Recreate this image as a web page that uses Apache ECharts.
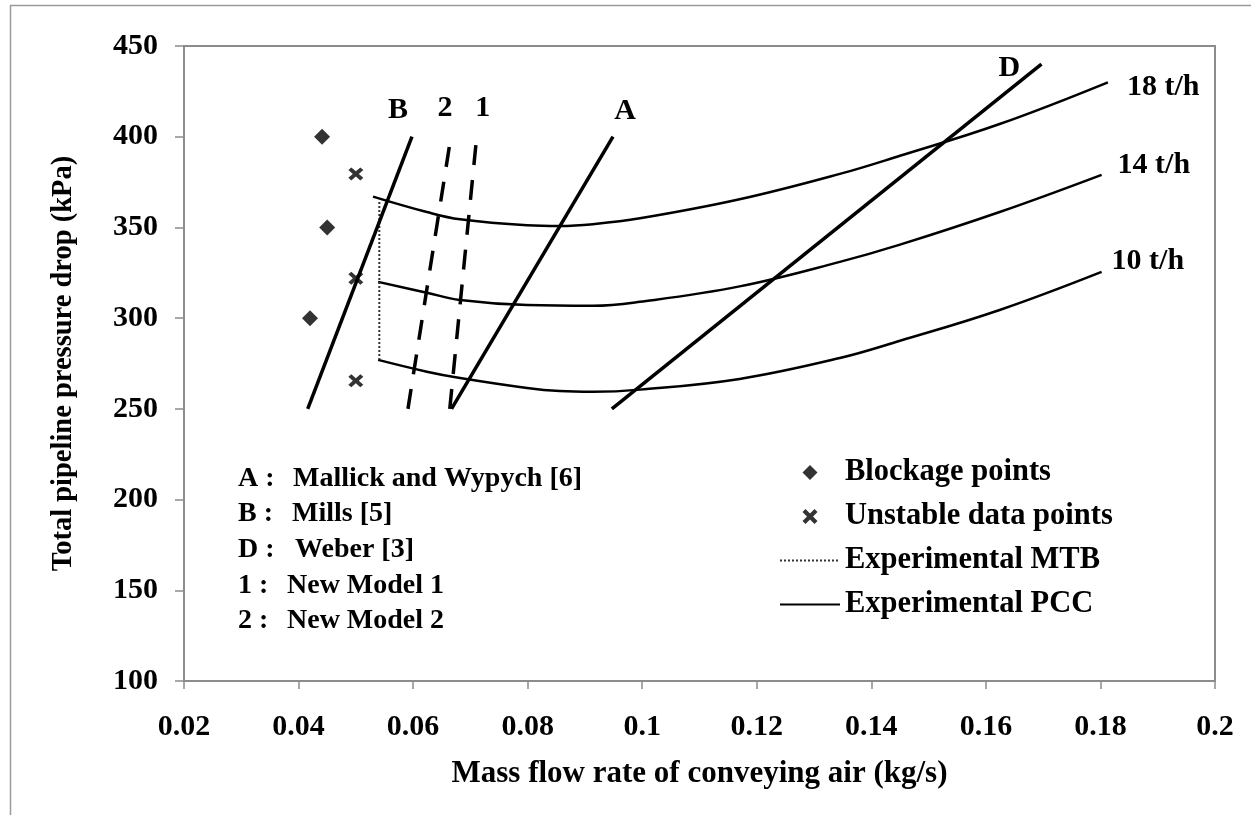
<!DOCTYPE html>
<html><head><meta charset="utf-8">
<script src="https://cdn.jsdelivr.net/npm/echarts@6/dist/echarts.min.js"></script>
<style>html,body{margin:0;padding:0;background:#fff}#c{width:1251px;height:815px}</style>
</head><body><div id="c"></div>
<script>
// ---- axes ----
const xMin = 0.02, xMax = 0.2, xStep = 0.02;
const yMin = 100, yMax = 450, yStep = 50;
const xTitle = 'Mass flow rate of conveying air (kg/s)';
const yTitle = 'Total pipeline pressure drop (kPa)';

// ---- scatter points ----
const blockageX = [0.0441, 0.0450, 0.0420];
const blockageY = [400, 350, 300];
const unstableX = [0.0500, 0.0500, 0.0500];
const unstableY = [379.5, 322, 265.5];

// ---- straight model lines (two end points each) ----
const lineAX = [0.0667, 0.0949], lineAY = [250, 400];
const lineBX = [0.0416, 0.0598], lineBY = [250, 400];
const lineDX = [0.0947, 0.1697], lineDY = [250, 440];
const line1X = [0.0664, 0.0711], line1Y = [250, 400];
const line2X = [0.0591, 0.0666], line2Y = [250, 400];

// ---- experimental MTB (dotted) ----
const mtbX = [0.0541, 0.0541], mtbY = [364, 277];

// ---- experimental PCC curves ----
const c18X = [0.0530, 0.0624, 0.0682, 0.0799, 0.0856, 0.0914, 0.0996, 0.1170, 0.1345, 0.1450, 0.1624, 0.1813];
const c18Y = [367, 358.5, 354.5, 351.2, 350.8, 351.8, 355, 365.5, 379.5, 389.5, 407, 430];
const c14X = [0.0539, 0.0624, 0.0682, 0.0799, 0.0914, 0.0996, 0.1170, 0.1345, 0.1450, 0.1624, 0.1802];
const c14Y = [320, 314, 310, 307.2, 306.8, 309, 317.5, 331, 340.5, 358.5, 379];
const c10X = [0.0539, 0.0624, 0.0682, 0.0799, 0.0856, 0.0914, 0.0996, 0.1170, 0.1345, 0.1450, 0.1624, 0.1802];
const c10Y = [277, 270.5, 267, 261.5, 259.8, 259.4, 260.6, 266.5, 278, 287.5, 304.5, 325.5];

// ---- text ----
const legendNames = ['Blockage points', 'Unstable data points', 'Experimental MTB', 'Experimental PCC'];
const keyPrefixes = ['A :', 'B :', 'D :', '1 :', '2 :'];
const keyNames = ['Mallick and Wypych [6]', 'Mills [5]', 'Weber [3]', 'New Model 1', 'New Model 2'];
const curveLabels = ['18 t/h', '14 t/h', '10 t/h'];

const FONT = 'Liberation Serif';
const pairs = (xs, ys) => xs.map((x, i) => [x, ys[i]]);
const crossPath = 'path://M0,2 L2,0 L5,3 L8,0 L10,2 L7,5 L10,8 L8,10 L5,7 L2,10 L0,8 L3,5 Z';
const diamondPath = 'path://M5,0 L10,5 L5,10 L0,5 Z';

function straight(name, xs, ys, dashed) {
  return {
    name, type: 'line', data: pairs(xs, ys), symbol: 'none', silent: true,
    itemStyle: { color: '#000', opacity: 0 },
    lineStyle: { color: '#000', width: 3.5, type: dashed ? [20, 15] : 'solid' }, z: 4
  };
}
function curve(xs, ys) {
  return {
    name: 'Experimental PCC', type: 'line', data: pairs(xs, ys), symbol: 'none', smooth: 0.4,
    silent: true, itemStyle: { color: '#000', opacity: 0 },
    lineStyle: { color: '#000', width: 2.5 }, z: 3
  };
}

const chart = echarts.init(document.getElementById('c'), null, { renderer: 'canvas' });
const textBase = { fontFamily: FONT, fontWeight: 'bold', color: '#000' };
const tb = size => Object.assign({ fontSize: size }, textBase);

chart.setOption({
  animation: false,
  backgroundColor: '#fff',
  grid: { left: 184, top: 46, right: 36, bottom: 134, show: true, borderColor: '#8c8c8c', borderWidth: 2, backgroundColor: 'transparent' },
  xAxis: {
    type: 'value', min: xMin, max: xMax, interval: xStep,
    name: xTitle, nameLocation: 'middle', nameGap: 77,
    nameTextStyle: tb(31),
    axisLine: { show: true, lineStyle: { color: '#8c8c8c', width: 2 } },
    axisTick: { show: true, length: 8, lineStyle: { color: '#8c8c8c', width: 1.5 } },
    axisLabel: Object.assign({ margin: 31, formatter: v => String(parseFloat(v.toFixed(2))) }, tb(30)),
    splitLine: { show: false }
  },
  yAxis: {
    type: 'value', min: yMin, max: yMax, interval: yStep,
    name: yTitle, nameLocation: 'middle', nameGap: 106,
    nameTextStyle: tb(28.5),
    axisLine: { show: true, lineStyle: { color: '#8c8c8c', width: 2 } },
    axisTick: { show: true, length: 9, lineStyle: { color: '#8c8c8c', width: 1.5 } },
    axisLabel: Object.assign({ margin: 26 }, tb(30)),
    splitLine: { show: false }
  },
  legend: {
    data: legendNames, orient: 'vertical', left: 774, top: 452,
    itemWidth: 60, itemHeight: 15, itemGap: 13, selectedMode: false, symbolKeepAspect: true,
    textStyle: Object.assign({ lineHeight: 30 }, tb(30.5))
  },
  series: [
    straight('A', lineAX, lineAY, false),
    straight('B', lineBX, lineBY, false),
    straight('D', lineDX, lineDY, false),
    straight('1', line1X, line1Y, true),
    straight('2', line2X, line2Y, true),
    curve(c18X, c18Y), curve(c14X, c14Y), curve(c10X, c10Y),
    {
      name: 'Experimental MTB', type: 'line', data: pairs(mtbX, mtbY), symbol: 'none', silent: true,
      itemStyle: { color: '#333', opacity: 0 },
      lineStyle: { color: '#333', width: 2, type: 'dotted' }, z: 3
    },
    {
      name: 'Blockage points', type: 'scatter', data: pairs(blockageX, blockageY), symbol: diamondPath,
      symbolSize: 16, itemStyle: { color: '#000' }, silent: true, z: 5
    },
    {
      name: 'Unstable data points', type: 'scatter', data: pairs(unstableX, unstableY), symbol: crossPath,
      symbolSize: [15, 13], itemStyle: { color: '#000' }, silent: true, z: 5
    }
  ]
});

// ---- annotation texts placed relative to the data ends ----
const lineTags = [
  { t: 'A', x: lineAX[1], y: lineAY[1], dx: 12, dy: -25, align: 'center' },
  { t: 'B', x: lineBX[1], y: lineBY[1], dx: -14, dy: -26, align: 'center' },
  { t: '2', x: line2X[1], y: line2Y[1], dx: -6, dy: -28, align: 'center' },
  { t: '1', x: line1X[1], y: line1Y[1], dx: 6, dy: -28, align: 'center' },
  { t: 'D', x: lineDX[1], y: lineDY[1], dx: -32, dy: 4, align: 'center' },
  { t: curveLabels[0], x: c18X[c18X.length - 1], y: c18Y[c18Y.length - 1], dx: 19, dy: 5, align: 'left' },
  { t: curveLabels[1], x: c14X[c14X.length - 1], y: c14Y[c14Y.length - 1], dx: 16, dy: -10, align: 'left' },
  { t: curveLabels[2], x: c10X[c10X.length - 1], y: c10Y[c10Y.length - 1], dx: 10, dy: -11, align: 'left' }
];
const graphics = [{
  type: 'rect', left: 8, top: 3, silent: true,
  shape: { x: 0, y: 0, width: 1400, height: 900 },
  style: { fill: 'none', stroke: '#9a9a9a', lineWidth: 1.5 }, z: -1
}];
lineTags.forEach(g => {
  const p = chart.convertToPixel({ gridIndex: 0 }, [g.x, g.y]);
  graphics.push({
    type: 'text', x: p[0] + g.dx, y: p[1] + g.dy, silent: true, z: 10,
    style: { text: g.t, align: g.align, verticalAlign: 'middle', fill: '#000', font: 'bold 30px "' + FONT + '"' }
  });
});
const keyRowY = [479, 514, 550, 586, 621];
const keyNameX = [293, 292, 295, 287, 287];
keyPrefixes.forEach((p, i) => {
  graphics.push({ type: 'text', x: 238, y: keyRowY[i], silent: true,
    style: { text: p, verticalAlign: 'middle', fill: '#000', font: 'bold 28px "' + FONT + '"' } });
  graphics.push({ type: 'text', x: keyNameX[i], y: keyRowY[i], silent: true,
    style: { text: keyNames[i], verticalAlign: 'middle', fill: '#000', font: 'bold 28px "' + FONT + '"' } });
});
chart.setOption({ graphic: graphics });
</script>
</body></html>
